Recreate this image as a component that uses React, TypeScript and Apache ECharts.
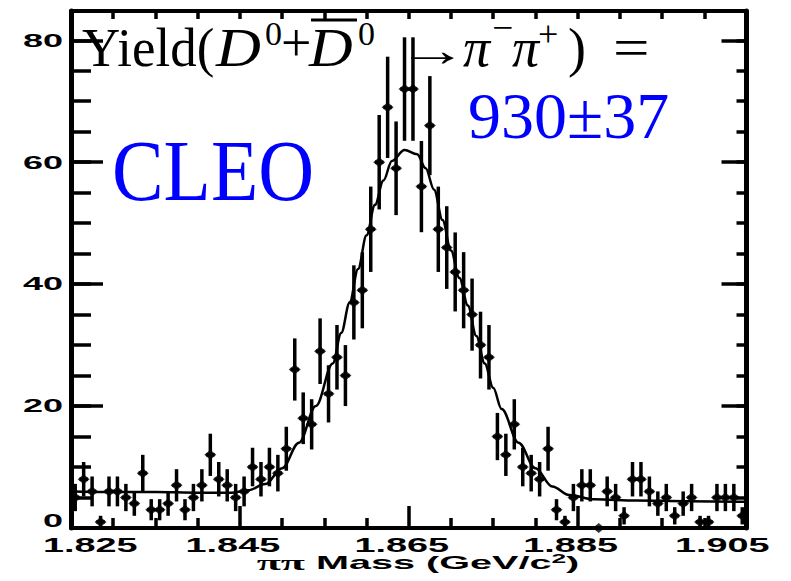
import React, { useEffect, useRef } from "react";
import * as echarts from "echarts";

// Histogram binning (GeV/c^2)
const X_MIN = 1.825;
const X_MAX = 1.905;
const BIN_WIDTH = 0.001;
const Y_MAX = 84.8;

// Entries per 1 MeV bin
const counts = [
  5, 8, 6, 1, 6, 6, 5, 4, 9, 3,
  3, 4, 7, 3, 5, 7, 12, 8, 7, 5,
  6, 10, 8, 10, 9, 13, 26, 18, 17, 29,
  22, 28, 25, 37, 39, 49, 60, 69, 59, 72,
  72, 56, 66, 49, 46, 42, 39, 35, 30, 28,
  15, 12, 17, 10, 9, 8, 13, 3, 1, 5,
  7, 7, 0, 6, 5, 2, 8, 8, 6, 4,
  5, 2, 4, 5, 1, 1, 5, 5, 5, 2,
];

// Fit curve
const fitMass = [
  1.825, 1.83, 1.835, 1.84, 1.844, 1.846, 1.848, 1.85, 1.852, 1.854, 1.856, 1.857,
  1.858, 1.859, 1.86, 1.861, 1.862, 1.863, 1.8645, 1.866, 1.867, 1.868, 1.869, 1.87,
  1.871, 1.872, 1.873, 1.874, 1.875, 1.876, 1.878, 1.88, 1.882, 1.884, 1.887, 1.892,
  1.898, 1.905,
];
const fitYield = [
  6.0, 5.9, 5.9, 5.8, 5.8, 6.2, 7.2, 9.8, 14.0, 20.0, 27.0, 32.0,
  37.0, 42.5, 48.0, 53.0, 57.0, 60.2, 62.0, 61.3, 59.0, 55.5, 50.5, 45.5,
  41.0, 36.5, 31.5, 27.0, 23.0, 19.5, 14.0, 9.8, 6.8, 5.4, 4.7, 4.5,
  4.4, 4.3,
];

const xTickLabels = ["1.825", "1.845", "1.865", "1.885", "1.905"];
const yTickLabels = ["0", "20", "40", "60", "80"];

const toMeV = (m: number) => Math.round((m - X_MIN) * 1e6) / 1e3;

const SERIF = "'Liberation Serif', 'Times New Roman', serif";
const SANS = "'Liberation Sans', Arial, sans-serif";

function piece(text: string, x: number, base: number, size: number, o: any = {}) {
  return {
    type: "text",
    x,
    y: base - 0.34 * size,
    scaleX: o.sx || 1,
    z: 1,
    style: {
      text,
      fontFamily: o.family || SERIF,
      fontSize: size,
      fontStyle: o.italic ? "italic" : "normal",
      fill: o.color || "#000",
      align: o.align || "left",
      verticalAlign: "middle",
    },
  };
}

export default function App() {
  const ref = useRef<HTMLDivElement>(null);
  useEffect(() => {
    const el = ref.current!;
    const chart = echarts.init(el, null, { renderer: "svg" });
    const halfBin = (BIN_WIDTH / 2) * 1000;
    const points = counts.map((n, i) => [toMeV(X_MIN + (i + 0.5) * BIN_WIDTH), n, Math.sqrt(n)]);
    const fit = fitMass.map((m, i) => [toMeV(m), fitYield[i]]);
    const span = toMeV(X_MAX);

    const tick = (len: number) => ({ show: true, inside: true, length: len, lineStyle: { color: "#000", width: 3.5 } });
    const axLine = (w: number, show = true) => ({ show, onZero: false, lineStyle: { color: "#000", width: w } });
    const base = { type: "value", min: 0, axisLabel: { show: false }, splitLine: { show: false } };

    const option: any = {
      animation: false,
      backgroundColor: "#fff",
      grid: { left: 71, right: 44.5, top: 11, bottom: 53 },
      xAxis: [
        {
          ...base, max: span, interval: 20, position: "bottom", axisLine: axLine(4), axisTick: tick(22),
          minorTick: { show: true, splitNumber: 4, length: 10, lineStyle: { color: "#000", width: 3.5 } },
          minorSplitLine: { show: false },
        },
        { ...base, max: span, interval: 5, position: "top", axisLine: axLine(4), axisTick: tick(8) },
      ],
      yAxis: [
        { ...base, max: Y_MAX, interval: 5, position: "left", axisLine: axLine(5), axisTick: tick(20) },
        { ...base, max: Y_MAX, interval: 20, position: "left", axisLine: axLine(5, false), axisTick: tick(32) },
        { ...base, max: Y_MAX, interval: 5, position: "right", axisLine: axLine(5), axisTick: tick(10) },
        { ...base, max: Y_MAX, interval: 20, position: "right", axisLine: axLine(5, false), axisTick: tick(25) },
      ],
      series: [
        {
          type: "line",
          data: fit,
          smooth: 0.35,
          smoothMonotone: "x",
          symbol: "none",
          showSymbol: false,
          silent: true,
          lineStyle: { color: "#000", width: 2.5 },
          z: 3,
        },
        {
          type: "custom",
          data: points,
          encode: { x: 0, y: 1 },
          z: 4,
          renderItem: (_p: any, api: any) => {
            const x = api.value(0);
            const y = api.value(1);
            const e = api.value(2);
            const top = api.coord([x, y + e]);
            const bot = api.coord([x, Math.max(0, y - e)]);
            const l = api.coord([x - halfBin, y]);
            const r = api.coord([x + halfBin, y]);
            return {
              type: "group",
              children: [
                { type: "line", shape: { x1: top[0], y1: top[1], x2: bot[0], y2: bot[1] }, style: { stroke: "#000", lineWidth: 3.5 } },
                { type: "line", shape: { x1: l[0], y1: l[1], x2: r[0], y2: r[1] }, style: { stroke: "#000", lineWidth: 3.5 } },
              ],
            };
          },
        },
        {
          type: "scatter",
          data: points.map((p) => [p[0], p[1]]),
          symbol: "diamond",
          symbolSize: [12, 10],
          itemStyle: { color: "#000" },
          z: 5,
        },
      ],
    };
    chart.setOption(option);

    const graphics: any[] = [];
    xTickLabels.forEach((lab, i) => {
      const px = chart.convertToPixel({ xAxisIndex: 0 }, toMeV(parseFloat(lab))) as number;
      let x = px - 7;
      let align = "center";
      if (i === 0) { x = px - 28; align = "left"; }
      if (i === xTickLabels.length - 1) { x = px + 23; align = "right"; }
      graphics.push({
        type: "text", x, y: 544, scaleX: 1.8,
        style: { text: lab, fontFamily: SANS, fontWeight: "bold", fontSize: 21, fill: "#000", align, verticalAlign: "middle" },
      });
    });
    yTickLabels.forEach((lab) => {
      const py = chart.convertToPixel({ yAxisIndex: 1 }, parseFloat(lab)) as number;
      graphics.push({
        type: "text", x: 63, y: Math.min(py, 521), scaleX: 2.0,
        style: { text: lab, fontFamily: SANS, fontWeight: "bold", fontSize: 18, fill: "#000", align: "right", verticalAlign: "middle" },
      });
    });
    graphics.push({
      type: "text", x: 418, y: 563, scaleX: 2.2,
      style: {
        text: "{p|ππ}{b| Mass (GeV/c}{s|2}{b|)}",
        align: "center", verticalAlign: "middle",
        rich: {
          p: { fontFamily: SERIF, fontWeight: "bold", fontSize: 20, fill: "#000" },
          b: { fontFamily: SANS, fontWeight: "bold", fontSize: 18, fill: "#000" },
          s: { fontFamily: SANS, fontWeight: "bold", fontSize: 12, fill: "#000", verticalAlign: "top" },
        },
      },
    });
    graphics.push(piece("Yield(", 82, 66, 54, { sx: 0.98 }));
    graphics.push(piece("D", 216, 66, 54, { italic: true, sx: 1.15 }));
    graphics.push(piece("0", 265, 45, 34));
    graphics.push(piece("+", 281, 61, 54));
    graphics.push(piece("D", 309, 66, 54, { italic: true, sx: 1.12 }));
    graphics.push({ type: "line", z: 1, shape: { x1: 311, y1: 20, x2: 357, y2: 20 }, style: { stroke: "#000", lineWidth: 3 } });
    graphics.push(piece("0", 358, 45, 34));
    graphics.push(piece("→", 397, 66, 46, { sx: 1.55 }));
    graphics.push(piece("π", 463, 66, 54, { italic: true }));
    graphics.push(piece("−", 492, 39, 34, { sx: 1.1 }));
    graphics.push(piece("π", 512, 66, 54, { italic: true }));
    graphics.push(piece("+", 538, 46, 36));
    graphics.push(piece(")", 568, 66, 54));
    graphics.push(piece("=", 613, 66, 54, { sx: 1.2 }));
    graphics.push(piece("930±37", 468, 138, 66, { color: "#0000ff" }));
    graphics.push(piece("CLEO", 112, 200, 86, { color: "#0000ff", sx: 0.9 }));

    chart.setOption({ graphic: graphics });
    return () => chart.dispose();
  }, []);
  return <div ref={ref} style={{ position: "absolute", left: 0, top: 0, width: 791, height: 581, background: "#fff" }} />;
}
